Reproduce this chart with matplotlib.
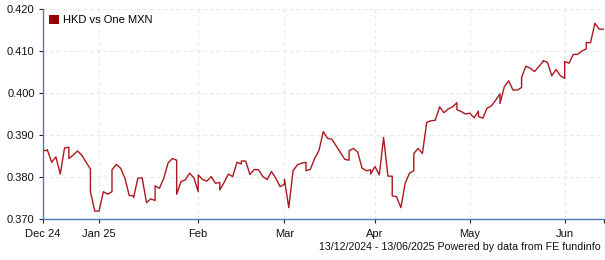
import numpy as np
import pandas as pd
import matplotlib.pyplot as plt
from matplotlib.patches import Patch
from matplotlib.ticker import FixedLocator, FormatStrFormatter

plt.rcParams['font.family'] = ['Liberation Sans', 'DejaVu Sans']

start = '2024-12-13'
end = '2025-06-13'
series_name = 'HKD vs One MXN'
footer = '13/12/2024 - 13/06/2025 Powered by data from FE fundinfo'

# one quote per day except Saturdays; Sunday quotes sit on the Monday slot
rates = [
    0.3863,
    0.3863, 0.3865, 0.3835, 0.3848, 0.3807, 0.3869,  # Dec 15
    0.3871, 0.3844, 0.3852, 0.3862, 0.3852, 0.3835,  # Dec 22
    0.3819, 0.3765, 0.3719, 0.3719, 0.3765, 0.3759,  # Dec 29
    0.3765, 0.3817, 0.3830, 0.3821, 0.3797, 0.3756,  # Jan 5
    0.3755, 0.3751, 0.3797, 0.3798, 0.3739, 0.3748,  # Jan 12
    0.3744, 0.3779, 0.3773, 0.3797, 0.3833, 0.3844,  # Jan 19
    0.3840, 0.3759, 0.3789, 0.3793, 0.3809, 0.3798,  # Jan 26
    0.3765, 0.3805, 0.3794, 0.3790, 0.3801, 0.3785,  # Feb 2
    0.3787, 0.3769, 0.3787, 0.3807, 0.3801, 0.3835,  # Feb 9
    0.3831, 0.3838, 0.3838, 0.3806, 0.3818, 0.3817,  # Feb 16
    0.3801, 0.3801, 0.3794, 0.3813, 0.3797, 0.3777,  # Feb 23
    0.3783, 0.3794, 0.3727, 0.3815, 0.3829, 0.3833,  # Mar 2
    0.3835, 0.3815, 0.3818, 0.3844, 0.3863, 0.3908,  # Mar 9
    0.3892, 0.3892, 0.3890, 0.3874, 0.3858, 0.3842,  # Mar 16
    0.3840, 0.3863, 0.3868, 0.3859, 0.3821, 0.3815,  # Mar 23
    0.3817, 0.3807, 0.3825, 0.3805, 0.3894, 0.3802,  # Mar 30
    0.3802, 0.3755, 0.3753, 0.3727, 0.3785, 0.3809,  # Apr 6
    0.3815, 0.3856, 0.3868, 0.3856, 0.3930, 0.3934,  # Apr 13
    0.3935, 0.3936, 0.3967, 0.3953, 0.3962, 0.3967,  # Apr 20
    0.3977, 0.3960, 0.3956, 0.3950, 0.3952, 0.3941,  # Apr 27
    0.3957, 0.3944, 0.3940, 0.3964, 0.3969, 0.3983,  # May 4
    0.3998, 0.3975, 0.4015, 0.4029, 0.4007, 0.4007,  # May 11
    0.4013, 0.4037, 0.4064, 0.4059, 0.4051, 0.4063,  # May 18
    0.4075, 0.4077, 0.4073, 0.4041, 0.4056, 0.4041,  # May 25
    0.4035, 0.4075, 0.4071, 0.4092, 0.4092, 0.4100,  # Jun 1
    0.4105, 0.4120, 0.4120, 0.4166, 0.4152, 0.4152,  # Jun 8
]

month_starts = ['2024-12-13', '2025-01-01', '2025-02-01', '2025-03-01',
                '2025-04-01', '2025-05-01', '2025-06-01']
month_labels = ['Dec 24', 'Jan 25', 'Feb', 'Mar', 'Apr', 'May', 'Jun']
y_ticks = [0.370, 0.380, 0.390, 0.400, 0.410, 0.420]

line_color = '#ad1820'
axis_color = '#4a7ebb'
grid_color = '#e6e6e6'


def slot(dates):
    # position = number of business days since the start
    d = np.asarray(dates, dtype='datetime64[D]')
    d = np.busday_offset(d, 0, roll='forward')
    return np.busday_count(np.datetime64(start), d)


days = pd.date_range(start, end, freq='D')
days = days[days.dayofweek != 5].values.astype('datetime64[D]')
x = slot(days)
last = slot([end])[0]

fig = plt.figure(figsize=(6.05, 2.6), dpi=100)
ax = fig.add_axes([43 / 605, 41 / 260, 560.5 / 605, 210 / 260])

ax.plot(x, rates, color=line_color, linewidth=1.0, zorder=3)

ax.set_xlim(0, last)
ax.set_ylim(0.370, 0.420)

ax.xaxis.set_major_locator(FixedLocator(slot(month_starts)))
ax.set_xticklabels(month_labels)
ax.xaxis.set_minor_locator(FixedLocator([last]))
ax.yaxis.set_major_locator(FixedLocator(y_ticks))
ax.yaxis.set_major_formatter(FormatStrFormatter('%.3f'))

ax.grid(True, which='major', color=grid_color, linestyle=(0, (3, 3)), linewidth=0.8, zorder=0)

for side in ['top', 'right']:
    ax.spines[side].set_visible(False)
for side in ['left', 'bottom']:
    ax.spines[side].set_color(axis_color)
    ax.spines[side].set_linewidth(1.0)

ax.tick_params(axis='both', which='both', direction='out', length=3, width=0.8,
               color='#222222', labelsize=8, labelcolor='#111111')
ax.tick_params(axis='y', pad=3)
ax.tick_params(axis='x', pad=4)

ax.legend(handles=[Patch(facecolor='#990000', edgecolor='none', label=series_name)],
          loc='upper left', bbox_to_anchor=(0.0, 1.0), frameon=False, fontsize=8,
          handlelength=0.9, handleheight=0.9, handletextpad=0.4,
          borderaxespad=0.0, borderpad=0.5)

fig.text(601 / 605, 1 - 247 / 260, footer, ha='right', va='center', fontsize=7.7, color='#111111')

fig.savefig('out.png', dpi=100)
